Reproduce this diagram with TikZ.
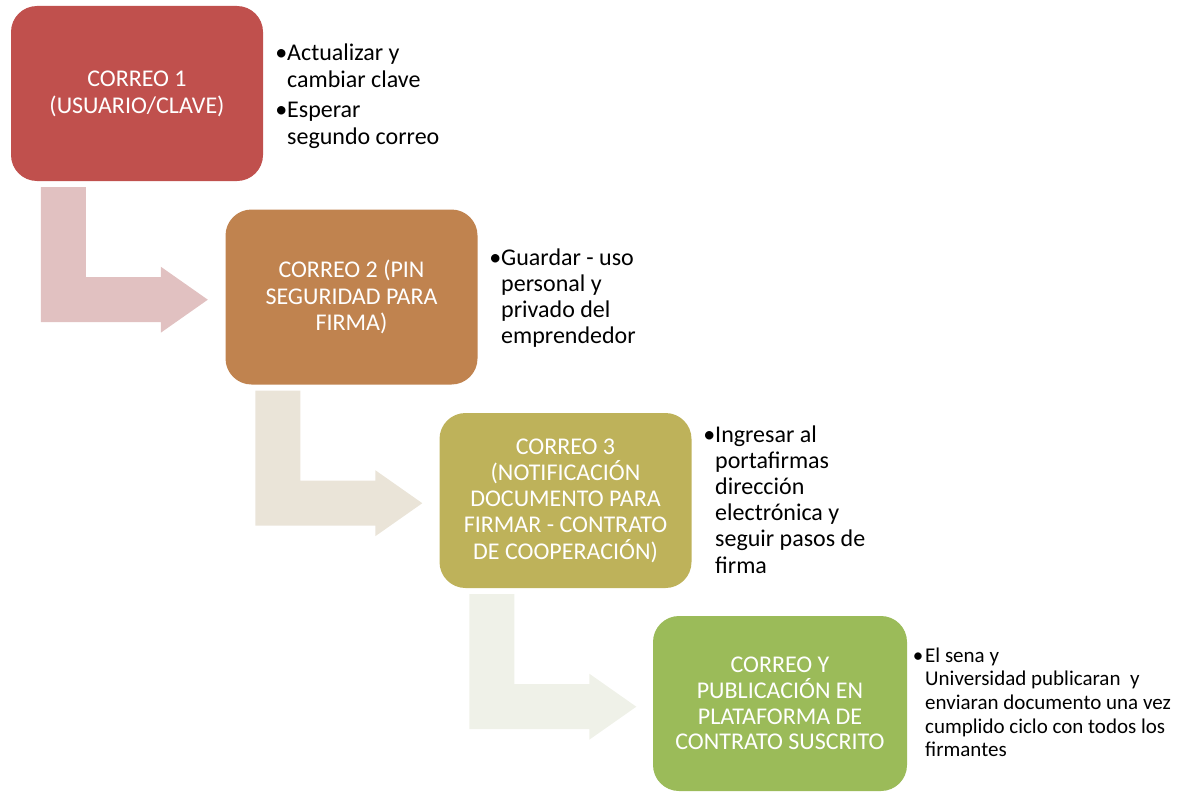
\documentclass[tikz,border=0pt]{standalone}
\usepackage{fontspec}
\setmainfont{Carlito}
\definecolor{c1}{HTML}{C0504D}
\definecolor{c2}{HTML}{C0834F}
\definecolor{c3}{HTML}{BEB25A}
\definecolor{c4}{HTML}{9BBB59}
\definecolor{a1}{HTML}{E1C1C1}
\definecolor{a2}{HTML}{EAE4D8}
\definecolor{a3}{HTML}{EFF1E8}
\newcommand{\bulletmark}{\leavevmode\llap{•}}
\tikzset{
  box/.style={rounded corners=26pt, minimum width=252pt, minimum height=175pt,
    inner sep=0pt, align=center, text=white, font=\fontsize{24}{26.2}\selectfont},
  bul/.style={anchor=base west, inner sep=0pt, text width=270pt, align=flush left,
    font=\fontsize{24}{26.2}\selectfont},
  bentarrow/.pic={
    \fill[pic actions] (30,6) -- (75,6) -- (75,96) -- (150,96) -- (150,85.5)
      -- (197,118.5) -- (150,151.5) -- (150,141) -- (30,141) -- cycle;
  }
}
\begin{document}
\begin{tikzpicture}[x=1pt,y=-1pt]
\useasboundingbox (0,0) rectangle (1190,792);

\node[box, fill=c1, font=\fontsize{24}{27}\selectfont] (b1) at (137,93.5) {CORREO 1\\(USUARIO/CLAVE)};
\node[box, fill=c2] (b2) at (351.5,297) {CORREO 2 (PIN\\SEGURIDAD PARA\\FIRMA)};
\node[box, fill=c3] (b3) at (565.5,500.5) {CORREO 3\\(NOTIFICACIÓN\\DOCUMENTO PARA\\FIRMAR - CONTRATO\\DE COOPERACIÓN)};
\node[box, fill=c4, minimum width=254pt, font=\fontsize{24}{25.8}\selectfont] (b4) at (780,703.5) {CORREO Y\\PUBLICACIÓN EN\\PLATAFORMA DE\\CONTRATO SUSCRITO};

\pic[fill=a1] (p1) at (b1.south west) {bentarrow};
\pic[fill=a2] (p2) at (b2.south west) {bentarrow};
\pic[fill=a3] (p3) at (b3.south west) {bentarrow};

\node[bul, font=\fontsize{24}{27}\selectfont] (t1) at (287,60) {\bulletmark Actualizar y\\cambiar clave\\[3pt]\bulletmark Esperar\\segundo correo};
\node[bul] (t2) at (501,265) {\bulletmark Guardar - uso\\personal y\\privado del\\emprendedor};
\node[bul] (t3) at (715,442) {\bulletmark Ingresar al\\portafirmas\\dirección\\electrónica y\\seguir pasos de\\firma};
\node[bul, font=\fontsize{21}{23.7}\selectfont] (t4) at (925,662) {\leavevmode\llap{•\hspace{2pt}}El sena y\\Universidad publicaran\ \ y\\enviaran documento una vez\\cumplido ciclo con todos los\\firmantes};
\end{tikzpicture}
\end{document}
